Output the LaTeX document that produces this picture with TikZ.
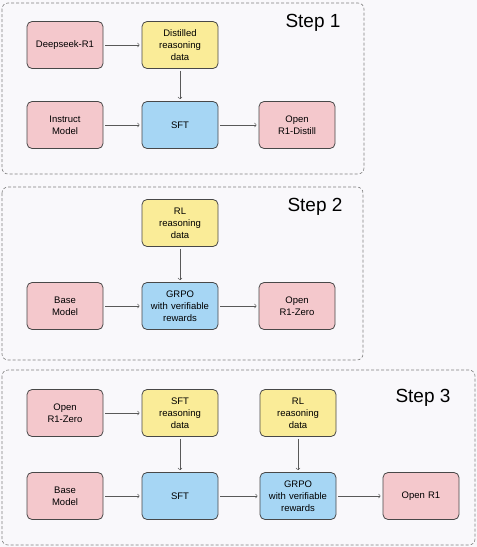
\documentclass[tikz,border=0pt]{standalone}
\usepackage{fontspec}
\setmainfont{Liberation Sans}
\definecolor{boxpink}{HTML}{F4C8CC}
\definecolor{boxyellow}{HTML}{FAEC98}
\definecolor{boxblue}{HTML}{A6D6F4}
\definecolor{pagebg}{HTML}{F9F8FB}
\definecolor{edgegray}{HTML}{484848}
\begin{document}
\begin{tikzpicture}[
    x=1pt, y=-1pt,
    block/.style={rectangle, draw=edgegray, line width=0.8pt, text width=72pt, align=center, rounded corners=5pt, minimum width=76pt, minimum height=47pt, inner sep=2pt, font=\fontsize{9.5}{12}\selectfont},
    model/.style={block, fill=boxpink},
    data/.style={block, fill=boxyellow},
    train/.style={block, fill=boxblue},
    stepframe/.style={draw=gray, densely dashed, line width=0.6pt, rounded corners=6pt},
    steplabel/.style={font=\fontsize{19}{22}\selectfont},
    arrow/.style={->,>=to, draw=gray!70!black, line width=0.6pt, shorten <=2pt, shorten >=2pt}
]
\fill[pagebg] (0,0) rectangle (477,547);
\useasboundingbox (0,0) rectangle (477,547);

% Step 1
\draw[stepframe] (2,3) rectangle (364,174);
\node[steplabel] (lab1) at (313,23) {Step 1};
\node[model] (deepseek) at (65,45) {Deepseek-R1};
\node[data] (distdata) at (180,45) {Distilled\\reasoning\\data};
\node[model] (instruct) at (65,125) {Instruct\\Model};
\node[train] (sft1) at (180,125) {SFT};
\node[model] (distill) at (297,125) {Open\\R1-Distill};

% Step 2
\draw[stepframe] (2,187) rectangle (363,360);
\node[steplabel] (lab2) at (315,207) {Step 2};
\node[data] (rldata2) at (180,223) {RL\\reasoning\\data};
\node[model] (base2) at (65,306) {Base\\Model};
\node[train] (grpo2) at (180,306) {GRPO\\with verifiable\\rewards};
\node[model] (zero2) at (297,306) {Open\\R1-Zero};

% Step 3
\draw[stepframe] (2,370) rectangle (475,545);
\node[steplabel] (lab3) at (423,398) {Step 3};
\node[model] (zero3) at (65,413) {Open\\R1-Zero};
\node[data] (sftdata3) at (180,413) {SFT\\reasoning\\data};
\node[data] (rldata3) at (298,413) {RL\\reasoning\\data};
\node[model] (base3) at (65,496) {Base\\Model};
\node[train] (sft3) at (180,496) {SFT};
\node[train] (grpo3) at (298,496) {GRPO\\with verifiable\\rewards};
\node[model] (openr1) at (421,496) {Open R1};

% Frecce
\draw[arrow] (deepseek) -- (distdata);
\draw[arrow] (distdata) -- (sft1);
\draw[arrow] (instruct) -- (sft1);
\draw[arrow] (sft1) -- (distill);
\draw[arrow] (rldata2) -- (grpo2);
\draw[arrow] (base2) -- (grpo2);
\draw[arrow] (grpo2) -- (zero2);
\draw[arrow] (zero3) -- (sftdata3);
\draw[arrow] (sftdata3) -- (sft3);
\draw[arrow] (rldata3) -- (grpo3);
\draw[arrow] (base3) -- (sft3);
\draw[arrow] (sft3) -- (grpo3);
\draw[arrow] (grpo3) -- (openr1);

\end{tikzpicture}
\end{document}
